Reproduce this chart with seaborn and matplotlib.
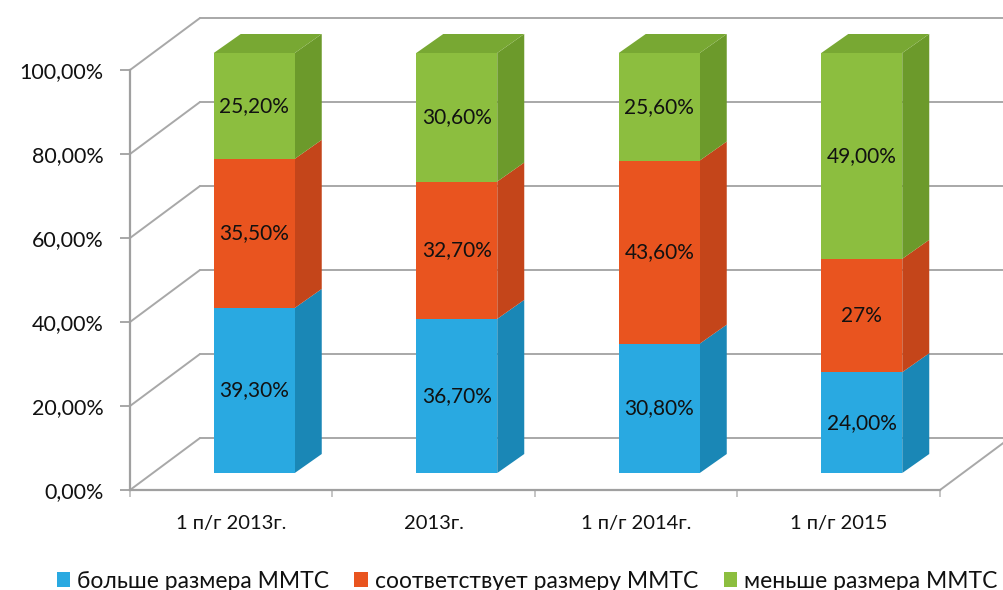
import matplotlib
matplotlib.use("Agg")
import matplotlib.pyplot as plt
from matplotlib.patches import Polygon, Patch
import seaborn as sns
import pandas as pd
import numpy as np

# ---- data ----
periods = ["1 п/г 2013г.", "2013г.", "1 п/г 2014г.", "1 п/г 2015"]
series_names = ["больше размера ММТС", "соответствует размеру ММТС", "меньше размера ММТС"]
bigger = [39.3, 36.7, 30.8, 24.0]
matches = [35.5, 32.7, 43.6, 27.0]
smaller = [25.2, 30.6, 25.6, 49.0]
bigger_labels = ["39,30%", "36,70%", "30,80%", "24,00%"]
matches_labels = ["35,50%", "32,70%", "43,60%", "27%"]
smaller_labels = ["25,20%", "30,60%", "25,60%", "49,00%"]
yticks = [0, 20, 40, 60, 80, 100]
ytick_labels = ["0,00%", "20,00%", "40,00%", "60,00%", "80,00%", "100,00%"]

front_cols = ["#29A9E1", "#E9541F", "#8CBE3F"]
side_cols = ["#1A87B6", "#C4451A", "#6C9A2B"]
top_col = "#78A833"
grid_col = "#A8A8A8"
text_col = "#111111"

sns.set_theme(style="white")
plt.rcParams["font.family"] = ["Lato", "DejaVu Sans"]

W, H = 1004, 590
fig = plt.figure(figsize=(W / 100, H / 100), dpi=100)
fig.patch.set_facecolor("white")
ax = fig.add_axes([130 / W, 100 / H, 810 / W, 420 / H])
ax.set_xlim(-0.5, 3.5)
ax.set_ylim(0, 100)
ax.patch.set_alpha(0)

kx = 810 / 4.0   # px per x unit
ky = 420 / 100.0  # px per y unit
def off(px, py):
    return px / kx, py / ky

wx, wy = off(70, 52)   # back wall depth
bx, by = off(23, 17)   # bar front plane
dx, dy = off(27, 19)   # bar depth

# ---- walls / gridlines ----
for v in yticks:
    ax.plot([-0.5, -0.5 + wx], [v, v + wy], color=grid_col, lw=1.4, zorder=0, clip_on=False)
    ax.plot([-0.5 + wx, 3.5 + wx], [v + wy, v + wy], color=grid_col, lw=1.4, zorder=0, clip_on=False)
ax.plot([3.5, 3.5 + wx], [0, wy], color=grid_col, lw=1.4, zorder=0, clip_on=False)

# ---- stacked bars via seaborn (cumulative, drawn back-to-front) ----
cum1 = np.array(bigger)
cum2 = cum1 + np.array(matches)
cum3 = cum2 + np.array(smaller)
df = pd.DataFrame({
    "period": periods * 3,
    "top": list(cum3) + list(cum2) + list(cum1),
    "series": [series_names[2]] * 4 + [series_names[1]] * 4 + [series_names[0]] * 4,
})
pal = {series_names[0]: front_cols[0], series_names[1]: front_cols[1], series_names[2]: front_cols[2]}
sns.barplot(data=df, x="period", y="top", hue="series", hue_order=[series_names[2], series_names[1], series_names[0]],
            palette=pal, dodge=False, width=0.4, saturation=1, legend=False, ax=ax, linewidth=0, zorder=3)
ax.set_xlim(-0.5, 3.5)
ax.set_ylim(0, 100)
for p in ax.patches:
    p.set_x(p.get_x() + bx)
    p.set_y(p.get_y() + by)
    p.set_clip_on(False)

# side and top faces
bottoms = [np.zeros(4), cum1, cum2]
tops = [cum1, cum2, cum3]
for s in range(3):
    for i in range(4):
        xr = i + 0.2 + bx
        y0 = bottoms[s][i] + by
        y1 = tops[s][i] + by
        ax.add_patch(Polygon([[xr, y0], [xr, y1], [xr + dx, y1 + dy], [xr + dx, y0 + dy]],
                             closed=True, facecolor=side_cols[s], edgecolor="none", zorder=2, clip_on=False))
for i in range(4):
    xl = i - 0.2 + bx
    xr = i + 0.2 + bx
    yt = cum3[i] + by
    ax.add_patch(Polygon([[xl, yt], [xr, yt], [xr + dx, yt + dy], [xl + dx, yt + dy]],
                         closed=True, facecolor=top_col, edgecolor="none", zorder=2, clip_on=False))

# data labels
all_labels = [bigger_labels, matches_labels, smaller_labels]
for s in range(3):
    for i in range(4):
        yc = (bottoms[s][i] + tops[s][i]) / 2 + by
        ax.text(i + bx, yc, all_labels[s][i], ha="center", va="center", fontsize=15,
                color=text_col, zorder=5)

# ---- axes styling ----
for sp in ["top", "right"]:
    ax.spines[sp].set_visible(False)
for sp in ["left", "bottom"]:
    ax.spines[sp].set_color("#A0A0A0")
    ax.spines[sp].set_linewidth(1.6)
    ax.spines[sp].set_zorder(1)
ax.set_yticks(yticks)
ax.set_yticklabels(ytick_labels)
ax.tick_params(axis="y", length=7, width=1.3, color="#A0A0A0", pad=12, labelsize=15.5, labelcolor=text_col, left=True)
ax.set_xticks([-0.5, 0.5, 1.5, 2.5, 3.5])
ax.set_xticklabels([])
ax.set_xticks([0, 1, 2, 3], minor=True)
ax.set_xticklabels(periods, minor=True)
ax.tick_params(axis="x", which="major", length=5, width=1.3, color="#C0C0C0", bottom=True)
ax.tick_params(axis="x", which="minor", length=0, pad=18, labelsize=14.5, labelcolor=text_col)
ax.set_xlabel("")
ax.set_ylabel("")

handles = [Patch(facecolor=front_cols[k], edgecolor="none", label=series_names[k]) for k in range(3)]
fig.legend(handles=handles, loc="center", bbox_to_anchor=(0.525, 9 / H), ncol=3, frameon=False,
           prop={"size": 16.5}, labelcolor=text_col,
           handlelength=0.6, handleheight=0.6, handletextpad=0.3, columnspacing=1.1)

fig.savefig("out.png", dpi=100, facecolor="white")
